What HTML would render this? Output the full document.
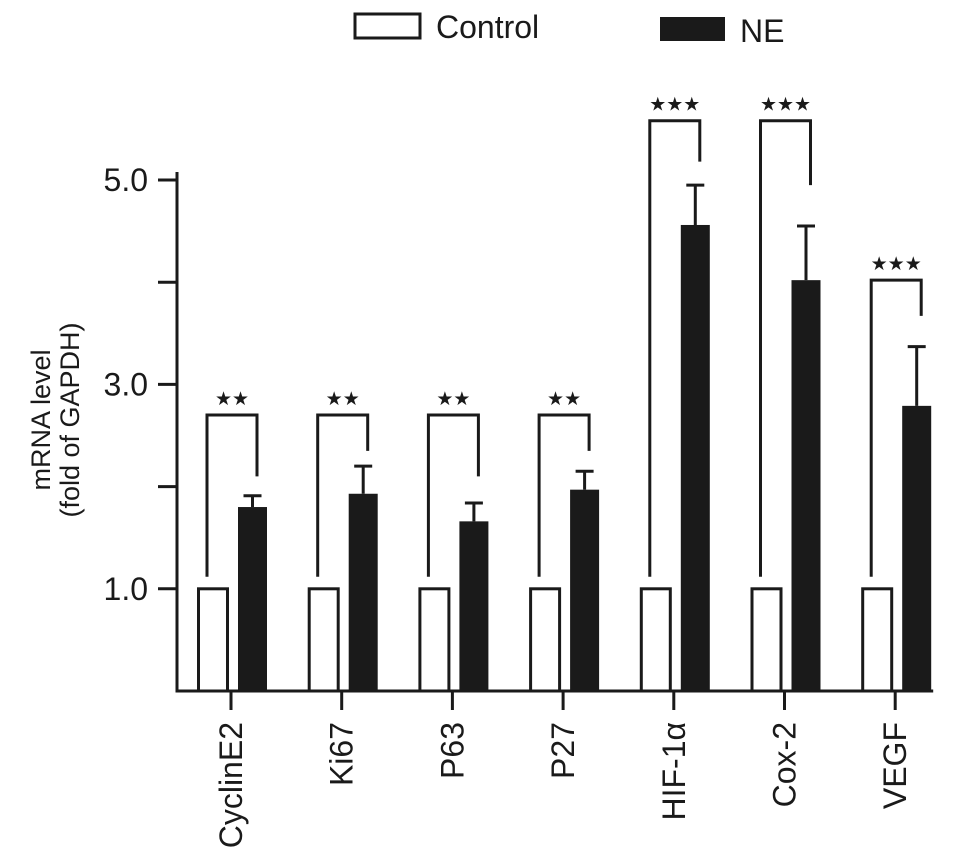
<!DOCTYPE html>
<html><head><meta charset="utf-8"><style>body{margin:0;background:#fff}svg{display:block;font-family:"Liberation Sans",Arial,sans-serif}</style></head>
<body>
<svg id="chart" width="969" height="864" viewBox="0 0 969 864">
<g>
<rect x="355" y="14" width="65" height="24" fill="#fff" stroke="#1a1a1a" stroke-width="3"/>
<text x="436" y="38" font-size="32" fill="#1a1a1a">Control</text>
<rect x="660" y="17" width="65" height="24" fill="#1a1a1a"/>
<text x="740" y="42" font-size="32" fill="#1a1a1a">NE</text>
</g>
<text transform="translate(50,420) rotate(-90)" text-anchor="middle" font-size="27" fill="#1a1a1a"><tspan x="0" dy="0">mRNA level</tspan><tspan x="0" dy="29">(fold of GAPDH)</tspan></text>
</svg>
<script>
const categories=["CyclinE2","Ki67","P63","P27","HIF-1α","Cox-2","VEGF"];
const controlValues=[1,1,1,1,1,1,1];
const neValues=[1.80,1.93,1.66,1.97,4.56,4.02,2.79];
const neErrors=[0.11,0.27,0.18,0.18,0.39,0.53,0.58];
const sigLabels=["★★","★★","★★","★★","★★★","★★★","★★★"];
const sigHeights=[2.70,2.70,2.70,2.70,5.58,5.58,4.02];
const sigRightEnds=[2.10,2.35,2.10,2.35,5.18,4.95,3.67];
const yTicks=[1,2,3,4,5];
const yTickLabels=["1.0","","3.0","","5.0"];

const svg=document.getElementById('chart');
const NS='http://www.w3.org/2000/svg';
const y0=691, ppu=102.2, axisX=177, gx0=197, gstep=110.7;
const y=v=>y0-v*ppu;
const gX=i=>gx0+i*gstep;
function mk(t,a,p){const e=document.createElementNS(NS,t);for(const k in a)e.setAttribute(k,a[k]);(p||svg).appendChild(e);return e;}
const ink='#1a1a1a';
const axes=mk('g',{});


const ya=mk('line',{x1:axisX,y1:y(5)-8,x2:axisX,y2:y0+1.5,stroke:ink,'stroke-width':3},axes);


const xa=mk('line',{x1:axisX,y1:y0,x2:gX(6)+72,y2:y0,stroke:ink,'stroke-width':3},axes);


yTicks.forEach((v,i)=>{
  const t=mk('line',{x1:axisX-19,y1:y(v),x2:axisX,y2:y(v),stroke:ink,'stroke-width':3},axes);
  
  
  if(yTickLabels[i]){
    const l=mk('text',{x:axisX-29,y:y(v)+11,'text-anchor':'end','font-size':32,fill:ink},axes);
    l.textContent=yTickLabels[i];
    
    
  }
});
categories.forEach((c,i)=>{
  const x=gX(i);
  const cb=mk('rect',{x:x+1.5,y:y(controlValues[i]),width:29,height:y0-y(controlValues[i]),fill:'#fff',stroke:ink,'stroke-width':3});
  
  
  const nb=mk('rect',{x:x+41,y:y(neValues[i]),width:29,height:y0-y(neValues[i]),fill:ink});
  
  
  const cx=x+55.5, et=y(neValues[i]+neErrors[i]);
  const eb=mk('path',{d:`M${cx},${y(neValues[i])}V${et}M${cx-9},${et}H${cx+9}`,stroke:ink,'stroke-width':3,fill:'none'});
  
  
  const lx=x+10, rx=x+60, top=y(sigHeights[i]);
  const br=mk('path',{d:`M${lx},${y(controlValues[i])-12}V${top}H${rx}V${y(sigRightEnds[i])}`,stroke:ink,'stroke-width':3,fill:'none'});
  
  
  const st=mk('text',{x:(lx+rx)/2,y:top-10,'text-anchor':'middle','font-size':19,fill:ink,'font-family':'"DejaVu Sans",sans-serif'});
  st.textContent=sigLabels[i];
  
  
  const tx=x+34;
  const tk=mk('line',{x1:tx,y1:y0,x2:tx,y2:y0+19,stroke:ink,'stroke-width':3});
  
  
  const lb=mk('text',{transform:`translate(${tx+11},${y0+31}) rotate(-90)`,'text-anchor':'end','font-size':32,fill:ink});
  lb.textContent=c;
  
  
});
</script>
</body></html>
